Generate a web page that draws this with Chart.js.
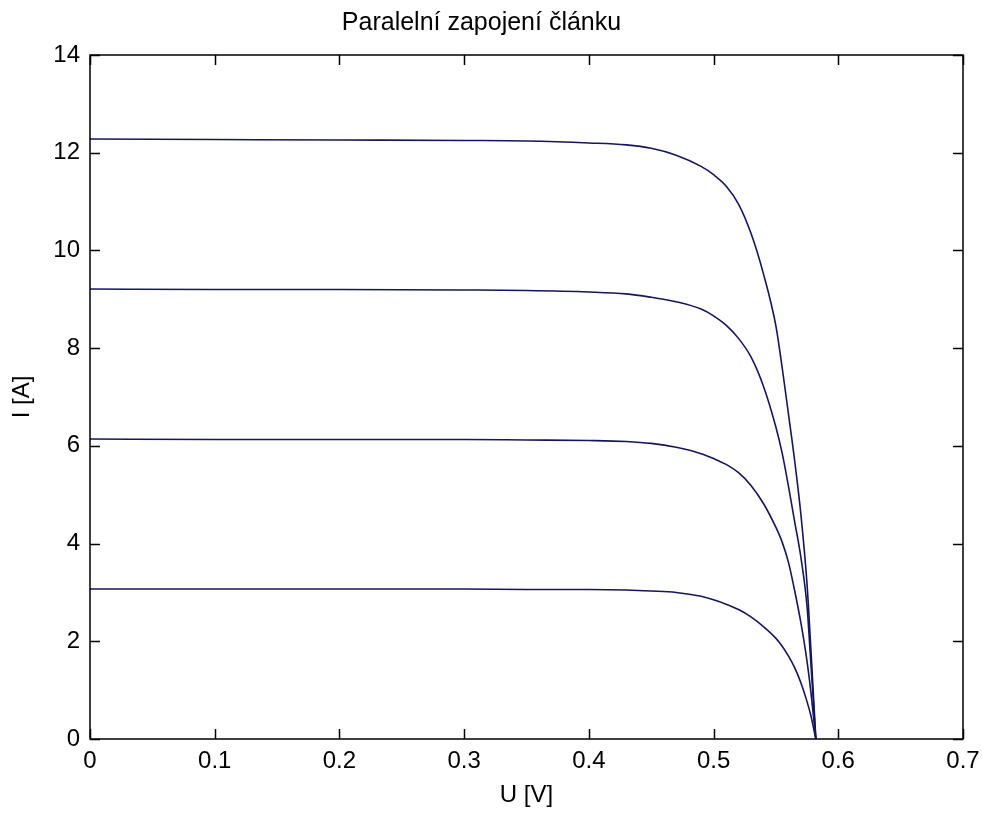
<!DOCTYPE html>
<html>
<head>
<meta charset="utf-8">
<title>Paralelní zapojení článku</title>
<script src="https://cdn.jsdelivr.net/npm/chart.js@4/dist/chart.umd.min.js"></script>
<style>
  html, body { margin: 0; padding: 0; background: #fff; }
  #chart { display: block; }
</style>
</head>
<body>
<canvas id="chart" width="982" height="814"></canvas>
<script>
// napeti U [V], spolecne pro vsechny krivky
const napeti = [0, 0.1, 0.2, 0.3, 0.35, 0.4, 0.43, 0.45, 0.47, 0.49, 0.50, 0.51, 0.52, 0.53, 0.54, 0.55, 0.555, 0.56, 0.565, 0.57, 0.575, 0.578, 0.582];

// proud I [A] pro 1 az 4 paralelne zapojene clanky
const proud1 = [3.07, 3.07, 3.07, 3.07, 3.06, 3.06, 3.05, 3.03, 3.00, 2.92, 2.85, 2.76, 2.65, 2.50, 2.30, 2.06, 1.90, 1.70, 1.46, 1.15, 0.76, 0.48, 0];
const proud2 = [6.14, 6.13, 6.13, 6.13, 6.12, 6.11, 6.09, 6.05, 5.97, 5.84, 5.74, 5.62, 5.45, 5.19, 4.82, 4.33, 4.03, 3.62, 3.04, 2.38, 1.58, 0.97, 0];
const proud3 = [9.21, 9.20, 9.20, 9.19, 9.18, 9.15, 9.11, 9.04, 8.95, 8.80, 8.66, 8.47, 8.20, 7.82, 7.22, 6.38, 5.85, 5.18, 4.45, 3.72, 2.70, 1.55, 0];
const proud4 = [12.28, 12.27, 12.26, 12.25, 12.24, 12.20, 12.16, 12.09, 11.95, 11.72, 11.55, 11.32, 10.95, 10.35, 9.52, 8.45, 7.60, 6.66, 5.70, 4.60, 3.15, 1.85, 0];

const xTicks = [0, 0.1, 0.2, 0.3, 0.4, 0.5, 0.6, 0.7];
const yTicks = [0, 2, 4, 6, 8, 10, 12, 14];

const lineColor = '#16165e';
const font = { family: '"Liberation Sans", Arial, sans-serif', size: 24 };

function body(proud) {
  return napeti.map((u, i) => ({ x: u, y: proud[i] }));
}

// ramecek kolem grafu a kratke znacky smerem dovnitr (jako v Matlabu)
const boxTicks = {
  id: 'boxTicks',
  afterDraw(chart) {
    const ctx = chart.ctx;
    const a = chart.chartArea;
    const sx = chart.scales.x, sy = chart.scales.y;
    const len = 10;
    ctx.save();
    ctx.strokeStyle = '#000';
    ctx.lineWidth = 1.5;
    ctx.strokeRect(a.left, a.top, a.right - a.left, a.bottom - a.top);
    ctx.beginPath();
    xTicks.forEach(v => {
      const px = Math.round(sx.getPixelForValue(v)) + 0.5;
      ctx.moveTo(px, a.bottom); ctx.lineTo(px, a.bottom - len);
      ctx.moveTo(px, a.top); ctx.lineTo(px, a.top + len);
    });
    yTicks.forEach(v => {
      const py = Math.round(sy.getPixelForValue(v)) + 0.5;
      ctx.moveTo(a.left, py); ctx.lineTo(a.left + len, py);
      ctx.moveTo(a.right, py); ctx.lineTo(a.right - len, py);
    });
    ctx.stroke();
    ctx.restore();
  }
};

new Chart(document.getElementById('chart'), {
  type: 'line',
  data: {
    datasets: [proud1, proud2, proud3, proud4].map(p => ({
      data: body(p),
      borderColor: lineColor,
      borderWidth: 1.6,
      pointRadius: 0,
      cubicInterpolationMode: 'monotone',
      fill: false
    }))
  },
  options: {
    responsive: false,
    animation: false,
    locale: 'en-US',
    layout: { padding: { left: 0, right: 19, top: 0, bottom: 0 } },
    plugins: {
      legend: { display: false },
      tooltip: { enabled: false },
      title: {
        display: true,
        text: 'Paralelní zapojení článku',
        color: '#000',
        font: { family: font.family, size: 25, weight: 'normal' },
        padding: { top: 8, bottom: 17 }
      }
    },
    scales: {
      x: {
        type: 'linear',
        min: 0,
        max: 0.7,
        afterBuildTicks: s => { s.ticks = xTicks.map(v => ({ value: v })); },
        ticks: { color: '#000', font: font, padding: 0, maxRotation: 0 },
        grid: { display: false },
        border: { display: false },
        title: { display: true, text: 'U [V]', color: '#000', font: font, padding: { top: 0, bottom: 4 } },
        afterFit: s => { s.height = 75; }
      },
      y: {
        type: 'linear',
        min: 0,
        max: 14,
        afterBuildTicks: s => { s.ticks = yTicks.map(v => ({ value: v })); },
        ticks: { color: '#000', font: font, padding: 2 },
        grid: { display: false },
        border: { display: false },
        title: { display: true, text: 'I [A]', color: '#000', font: font, padding: { top: 8, bottom: 0 } },
        afterFit: s => { s.width = 90; }
      }
    }
  },
  plugins: [boxTicks]
});
</script>
</body>
</html>
